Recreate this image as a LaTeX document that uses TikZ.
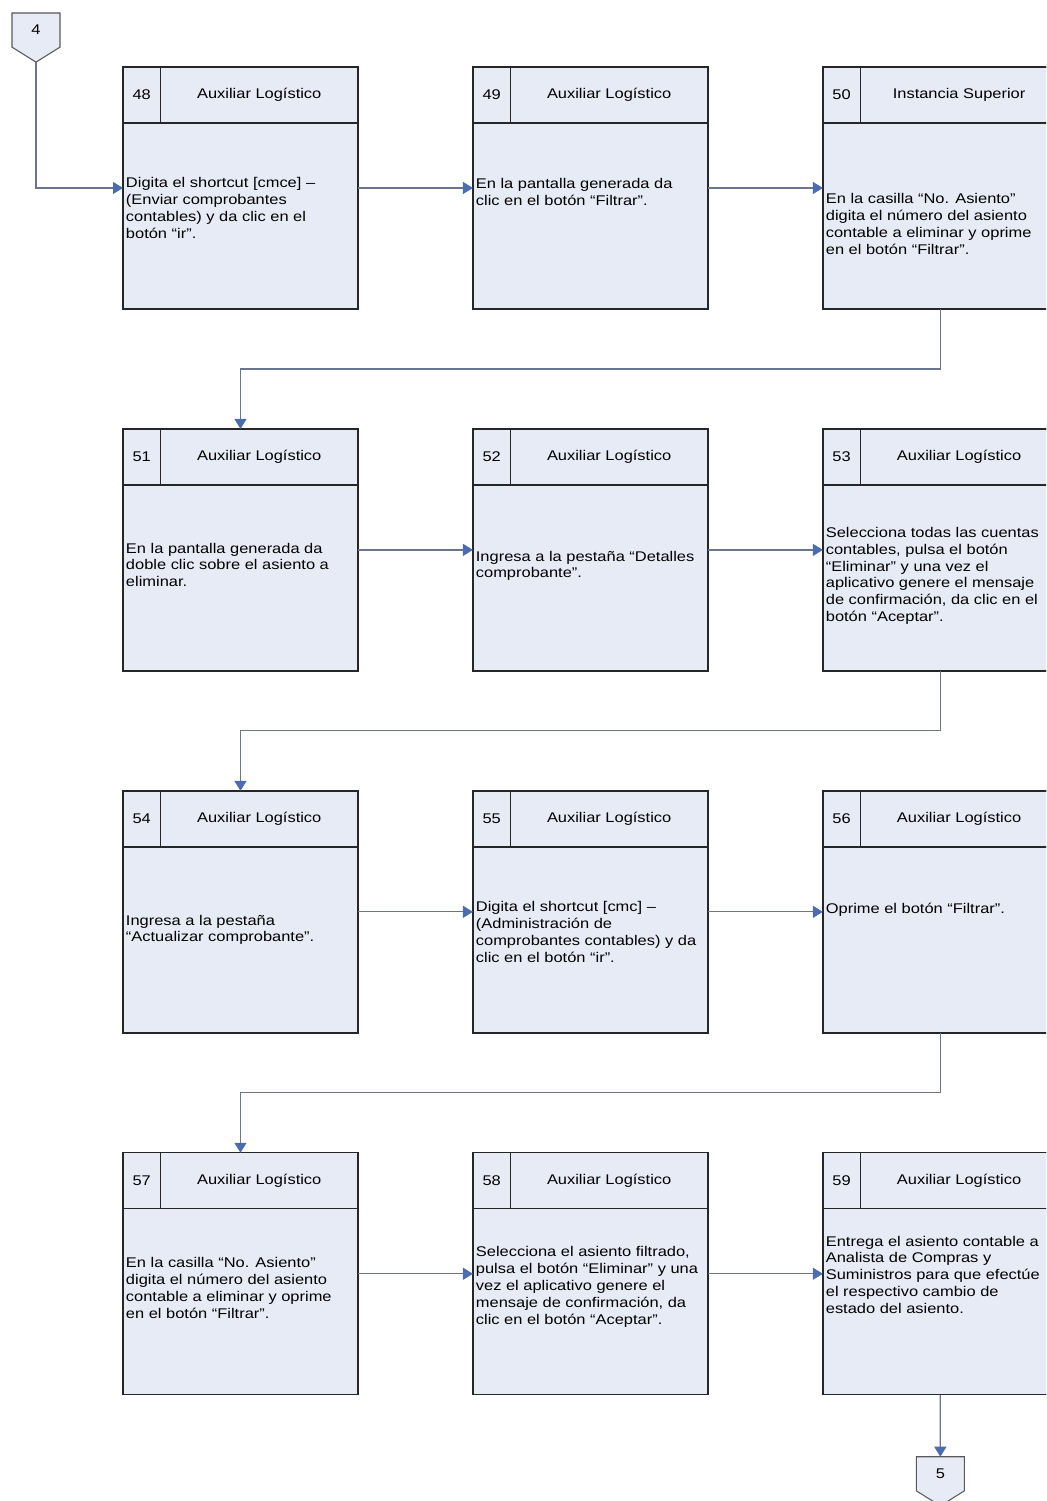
\documentclass[tikz,border=0pt]{standalone}
\usepackage{fontspec}
\setmainfont{Liberation Sans}[FakeStretch=1.17]
\usetikzlibrary{positioning,calc,shapes.symbols,arrows.meta}
\definecolor{boxfill}{RGB}{231,235,246}
\definecolor{flowline}{RGB}{105,118,142}
\definecolor{flowtip}{RGB}{76,108,176}

\begin{document}
\begin{tikzpicture}[x=0.02cm, y=-0.02cm,
    every node/.style={font=\fontsize{8}{9.6}\selectfont, inner sep=0pt, outer sep=0pt},
    box/.style={draw=black!85, line width=0.8pt, fill=boxfill,
                minimum width=4.7cm, minimum height=4.84cm},
    numcell/.style={draw=black!85, line width=0.8pt, anchor=north west,
                    minimum width=0.75cm, minimum height=1.12cm},
    rolecell/.style={draw=black!85, line width=0.8pt, anchor=north west,
                     minimum width=3.95cm, minimum height=1.12cm},
    body/.style={anchor=west, align=left, inner xsep=1.7pt},
    offpage/.style={draw=black!65, fill=boxfill, line width=0.6pt, signal, signal to=south,
                    signal pointer angle=116, minimum width=0.96cm, minimum height=0.74cm},
    flow/.style={draw=flowline, line width=0.7pt, -{Triangle[length=2mm, width=2.4mm, color=flowtip]}},
  ]
  \useasboundingbox (0,0) rectangle (1046,1501);
  \clip (0,0) rectangle (1046,1501);

  % boxes
  \node[box, anchor=north west] (b48) at (123,67) {};
  \node[box, right=2.3cm of b48] (b49) {};
  \node[box, right=2.3cm of b49] (b50) {};
  \node[box, below=2.4cm of b48] (b51) {};
  \node[box, right=2.3cm of b51] (b52) {};
  \node[box, right=2.3cm of b52] (b53) {};
  \node[box, below=2.4cm of b51] (b54) {};
  \node[box, right=2.3cm of b54] (b55) {};
  \node[box, right=2.3cm of b55] (b56) {};
  \node[box, below=2.4cm of b54] (b57) {};
  \node[box, right=2.3cm of b57] (b58) {};
  \node[box, right=2.3cm of b58] (b59) {};

  % headers
  \node[numcell] (n48) at (b48.north west) {48};
  \node[rolecell] (r48) at (n48.north east) {Auxiliar Logístico};
  \node[numcell] (n49) at (b49.north west) {49};
  \node[rolecell] (r49) at (n49.north east) {Auxiliar Logístico};
  \node[numcell] (n50) at (b50.north west) {50};
  \node[rolecell] (r50) at (n50.north east) {Instancia Superior};
  \node[numcell] (n51) at (b51.north west) {51};
  \node[rolecell] (r51) at (n51.north east) {Auxiliar Logístico};
  \node[numcell] (n52) at (b52.north west) {52};
  \node[rolecell] (r52) at (n52.north east) {Auxiliar Logístico};
  \node[numcell] (n53) at (b53.north west) {53};
  \node[rolecell] (r53) at (n53.north east) {Auxiliar Logístico};
  \node[numcell] (n54) at (b54.north west) {54};
  \node[rolecell] (r54) at (n54.north east) {Auxiliar Logístico};
  \node[numcell] (n55) at (b55.north west) {55};
  \node[rolecell] (r55) at (n55.north east) {Auxiliar Logístico};
  \node[numcell] (n56) at (b56.north west) {56};
  \node[rolecell] (r56) at (n56.north east) {Auxiliar Logístico};
  \node[numcell] (n57) at (b57.north west) {57};
  \node[rolecell] (r57) at (n57.north east) {Auxiliar Logístico};
  \node[numcell] (n58) at (b58.north west) {58};
  \node[rolecell] (r58) at (n58.north east) {Auxiliar Logístico};
  \node[numcell] (n59) at (b59.north west) {59};
  \node[rolecell] (r59) at (n59.north east) {Auxiliar Logístico};

  % texts
  \node[body] (t48) at ($(b48.west)+(0,20)$) {Digita el shortcut [cmce] –\\(Enviar comprobantes\\contables) y da clic en el\\botón “ir”.};
  \node[body] (t49) at ($(b49.west)+(0,4)$) {En la pantalla generada da\\clic en el botón “Filtrar”.};
  \node[body] (t50) at ($(b50.west)+(0,36)$) {En la casilla “No. Asiento”\\digita el número del asiento\\contable a eliminar y oprime\\en el botón “Filtrar”.};
  \node[body] (t51) at ($(b51.west)+(0,15)$) {En la pantalla generada da\\doble clic sobre el asiento a\\eliminar.};
  \node[body] (t52) at ($(b52.west)+(0,16)$) {Ingresa a la pestaña “Detalles\\comprobante”.};
  \node[body] (t53) at ($(b53.west)+(0,26)$) {Selecciona todas las cuentas\\contables, pulsa el botón\\“Eliminar” y una vez el\\aplicativo genere el mensaje\\de confirmación, da clic en el\\botón “Aceptar”.};
  \node[body] (t54) at ($(b54.west)+(0,18)$) {Ingresa a la pestaña\\“Actualizar comprobante”.};
  \node[body] (t55) at ($(b55.west)+(0,20)$) {Digita el shortcut [cmc] –\\(Administración de\\comprobantes contables) y da\\clic en el botón “ir”.};
  \node[body] (t56) at ($(b56.west)+(0,-2)$) {Oprime el botón “Filtrar”.};
  \node[body] (t57) at ($(b57.west)+(0,14)$) {En la casilla “No. Asiento”\\digita el número del asiento\\contable a eliminar y oprime\\en el botón “Filtrar”.};
  \node[body] (t58) at ($(b58.west)+(0,13)$) {Selecciona el asiento filtrado,\\pulsa el botón “Eliminar” y una\\vez el aplicativo genere el\\mensaje de confirmación, da\\clic en el botón “Aceptar”.};
  \node[body] (t59) at ($(b59.west)+(0,1)$) {Entrega el asiento contable a\\Analista de Compras y\\Suministros para que efectúe\\el respectivo cambio de\\estado del asiento.};

  % off-page connectors
  \node[offpage, anchor=north] (p4) at (36,13) {4};
  \node[offpage, below=1.24cm of b59] (p5) {5};

  % flow
  \coordinate (m1) at ($(b50.south)!.5!(b51.north)$);
  \coordinate (m2) at ($(b53.south)!.5!(b54.north)$);
  \coordinate (m3) at ($(b56.south)!.5!(b57.north)$);
  \draw[flow] (p4.south) |- (b48.west);
  \draw[flow] (b48) -- (b49);
  \draw[flow] (b49) -- (b50);
  \draw[flow] (b50.south) |- (m1) -| (b51.north);
  \draw[flow] (b51) -- (b52);
  \draw[flow] (b52) -- (b53);
  \draw[flow] (b53.south) |- (m2) -| (b54.north);
  \draw[flow] (b54) -- (b55);
  \draw[flow] (b55) -- (b56);
  \draw[flow] (b56.south) |- (m3) -| (b57.north);
  \draw[flow] (b57) -- (b58);
  \draw[flow] (b58) -- (b59);
  \draw[flow] (b59) -- (p5);
\end{tikzpicture}
\end{document}
